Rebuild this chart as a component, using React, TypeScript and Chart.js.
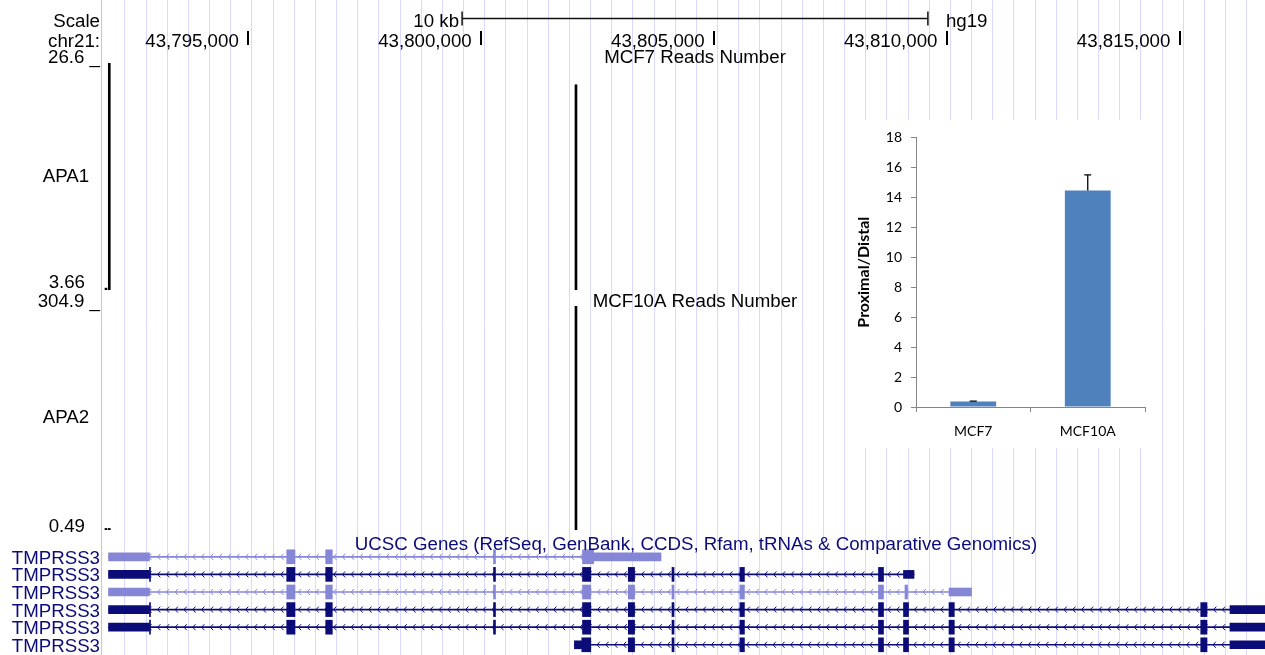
import React, { useEffect, useRef } from 'react';
import { Chart, registerables } from 'chart.js';

Chart.register(...registerables);

// ---------------- data: browser window (hg19) ----------------
const CHROM = 'chr21';
const ASSEMBLY = 'hg19';
const VIEW_START = 43791881;
const VIEW_END = 43816827;
const POSITION_TICKS = [43795000, 43800000, 43805000, 43810000, 43815000];
const SCALE_BAR_LABEL = '10 kb';
const SCALE_BAR = [43799590, 43809590];
const GUIDE_START = 43792353;
const GUIDE_STEP = 454.35;
const GUIDE_COUNT = 54;

// ---------------- data: read-count tracks ----------------
const TRACK_NAMES = ['APA1', 'APA2'];
const TRACK_TITLES = ['MCF7 Reads Number', 'MCF10A Reads Number'];
const APA1_RANGE = [3.66, 26.6];
const APA2_RANGE = [0.49, 304.9];
const APA1_RANGE_LABELS = ['26.6', '3.66'];
const APA2_RANGE_LABELS = ['304.9', '0.49'];
const SIGNAL_POSITIONS = [43791945, 43792016, 43802035];
const APA1_VALUES = [3.85, 26.6, 24.4];
const APA2_VALUES = [2.6, 2.6, 304.9];

// ---------------- data: gene track ----------------
const GENE_TRACK_TITLE = 'UCSC Genes (RefSeq, GenBank, CCDS, Rfam, tRNAs & Comparative Genomics)';
const TX_ROWS = [1, 2, 3, 4, 5, 6];
const TX_NAMES = ['TMPRSS3', 'TMPRSS3', 'TMPRSS3', 'TMPRSS3', 'TMPRSS3', 'TMPRSS3'];
const TX_STARTS = [43792000, 43792000, 43792000, 43792000, 43792000, 43802001];
const TX_ENDS = [43803860, 43809292, 43810526, 43817000, 43817000, 43817000];
// [row, start, end]
const UTR_BLOCKS = [
  [1, 43792000, 43792879], [1, 43802415, 43803860],
  [2, 43792000, 43792879], [2, 43809066, 43809292],
  [3, 43792000, 43792879], [3, 43810043, 43810526],
  [4, 43792000, 43792879], [4, 43816075, 43817000],
  [5, 43792000, 43792879], [5, 43816075, 43817000],
  [6, 43802001, 43802160], [6, 43816075, 43817000],
];
const CDS_BLOCKS = [
  [1, 43795825, 43796003], [1, 43796662, 43796804], [1, 43800264, 43800307], [1, 43802175, 43802415],
  [2, 43792879, 43792901], [2, 43795825, 43796003], [2, 43796662, 43796804], [2, 43800264, 43800307],
  [2, 43802175, 43802353], [2, 43803158, 43803293], [2, 43804096, 43804140], [2, 43805554, 43805651],
  [2, 43808529, 43808637],
  [3, 43795825, 43796003], [3, 43796662, 43796804], [3, 43800264, 43800307], [3, 43802175, 43802353],
  [3, 43803158, 43803293], [3, 43804096, 43804140], [3, 43805554, 43805651], [3, 43808529, 43808637],
  [3, 43809098, 43809152],
  [4, 43792879, 43792901], [4, 43795825, 43796003], [4, 43796662, 43796804], [4, 43800264, 43800307],
  [4, 43802175, 43802353], [4, 43803158, 43803293], [4, 43804096, 43804140], [4, 43805554, 43805651],
  [4, 43808529, 43808637], [4, 43809066, 43809174], [4, 43810043, 43810157], [4, 43815447, 43815582],
  [5, 43792879, 43792901], [5, 43795825, 43796003], [5, 43796662, 43796804], [5, 43800264, 43800307],
  [5, 43802175, 43802353], [5, 43803158, 43803293], [5, 43804096, 43804140], [5, 43805554, 43805651],
  [5, 43808529, 43808637], [5, 43809066, 43809174], [5, 43810043, 43810157], [5, 43815447, 43815582],
  [6, 43802160, 43802353], [6, 43803158, 43803293], [6, 43804096, 43804140], [6, 43805554, 43805651],
  [6, 43808529, 43808637], [6, 43809066, 43809174], [6, 43810043, 43810157], [6, 43815447, 43815582],
];

// ---------------- data: inset bar chart ----------------
const INSET_CATEGORIES = ['MCF7', 'MCF10A'];
const INSET_VALUES = [0.36, 14.45];
const INSET_ERRORS = [0.03, 1.05];
const INSET_Y_TITLE = 'Proximal/Distal';

// ---------------- styles ----------------
const FONT = '"Liberation Sans", Arial, sans-serif';
const FONT_PX = 18.7;
const NAVY = '#0c0c78';
const LIGHT = '#8686d6';
const TX_COLORS = [LIGHT, NAVY, LIGHT, NAVY, NAVY, NAVY];
const GUIDE_COLOR = '#d9d9ff';
const INSET_AXIS = '#868686';

const rowColor = (ctx: any) => (ctx && ctx.raw ? TX_COLORS[ctx.raw.y - 1] : NAVY);

const barCommon = {
  type: 'bar',
  borderWidth: 0,
  grouped: false,
  barPercentage: 1,
  categoryPercentage: 1,
};

const ucscPlugin = {
  id: 'ucscDecor',
  beforeDraw(chart: any) {
    const { ctx } = chart;
    ctx.save();
    ctx.fillStyle = '#fff';
    ctx.fillRect(0, 0, chart.width, chart.height);
    ctx.restore();
  },
  beforeDatasetsDraw(chart: any) {
    const { ctx, chartArea } = chart;
    const xs = chart.scales.xg;
    const ys = chart.scales.yGene;
    ctx.save();
    ctx.beginPath();
    ctx.rect(chartArea.left, chartArea.top, chartArea.right - chartArea.left, chartArea.bottom - chartArea.top);
    ctx.clip();
    ctx.lineWidth = 1;
    TX_ROWS.forEach((row, i) => {
      const y = ys.getPixelForValue(row);
      const x0 = Math.max(xs.getPixelForValue(TX_STARTS[i]), chartArea.left);
      const x1 = Math.min(xs.getPixelForValue(TX_ENDS[i]), chartArea.right);
      ctx.strokeStyle = TX_COLORS[i];
      ctx.beginPath();
      for (let px = x0 + 5; px < x1 - 4; px += 8.8) {
        ctx.moveTo(px + 2.8, y - 3);
        ctx.lineTo(px, y);
        ctx.lineTo(px + 2.8, y + 3);
      }
      ctx.stroke();
    });
    ctx.restore();
  },
  afterDraw(chart: any) {
    const { ctx } = chart;
    const x = chart.scales.x;
    const yA1 = chart.scales.yA1;
    const yA2 = chart.scales.yA2;
    const yG = chart.scales.yGene;
    ctx.save();
    // left border line
    ctx.strokeStyle = '#ffb0b0';
    ctx.lineWidth = 1;
    ctx.beginPath();
    ctx.moveTo(101.5, 0);
    ctx.lineTo(101.5, chart.height);
    ctx.stroke();

    ctx.font = `${FONT_PX}px ${FONT}`;
    ctx.fillStyle = '#000';
    ctx.textBaseline = 'alphabetic';

    // header labels
    ctx.textAlign = 'right';
    ctx.fillText('Scale', 100, 27.3);
    ctx.fillText(CHROM + ':', 100, 46.7);

    // scale bar
    const sb0 = x.getPixelForValue(SCALE_BAR[0]);
    const sb1 = x.getPixelForValue(SCALE_BAR[1]);
    ctx.strokeStyle = '#111';
    ctx.lineWidth = 1.5;
    ctx.beginPath();
    ctx.moveTo(sb0, 18.5);
    ctx.lineTo(sb1, 18.5);
    ctx.moveTo(sb0, 11.5);
    ctx.lineTo(sb0, 25.5);
    ctx.moveTo(sb1, 11.5);
    ctx.lineTo(sb1, 25.5);
    ctx.stroke();
    ctx.textAlign = 'right';
    ctx.fillText(SCALE_BAR_LABEL, sb0 - 3, 27);
    ctx.textAlign = 'left';
    ctx.fillText(ASSEMBLY, sb1 + 18, 27);

    // base position labels
    POSITION_TICKS.forEach((p) => {
      const px = x.getPixelForValue(p);
      ctx.textAlign = 'right';
      ctx.fillText(p.toLocaleString('en-US'), px - 9.5, 46.7);
      ctx.fillRect(Math.round(px) - 1, 31, 2, 14);
    });

    // track range labels
    ctx.textAlign = 'right';
    ctx.fillText(APA1_RANGE_LABELS[0] + ' _', 100, yA1.getPixelForValue(APA1_RANGE[1]) + 0.3);
    ctx.fillText(APA1_RANGE_LABELS[1], 85, yA1.getPixelForValue(APA1_RANGE[0]) - 1.7);
    ctx.fillText(APA2_RANGE_LABELS[0] + ' _', 100, yA2.getPixelForValue(APA2_RANGE[1]) + 0.5);
    ctx.fillText(APA2_RANGE_LABELS[1], 85, yA2.getPixelForValue(APA2_RANGE[0]) + 2);

    // track names (left column)
    ctx.textAlign = 'center';
    ctx.textBaseline = 'middle';
    ctx.fillText(TRACK_NAMES[0], 66, (yA1.top + yA1.bottom) / 2);
    ctx.fillText(TRACK_NAMES[1], 66, (yA2.top + yA2.bottom) / 2);

    // track titles
    ctx.textBaseline = 'alphabetic';
    ctx.fillText(TRACK_TITLES[0], 695, yA1.top + 0.3);
    ctx.fillText(TRACK_TITLES[1], 695, yA2.top + 0.5);

    // gene track
    ctx.fillStyle = NAVY;
    ctx.fillText(GENE_TRACK_TITLE, 696, yG.top + 2);
    ctx.textAlign = 'right';
    TX_ROWS.forEach((row, i) => {
      ctx.fillText(TX_NAMES[i], 100, yG.getPixelForValue(row) + 7);
    });
    ctx.restore();
  },
};

function mainConfig(): any {
  const signal = (values: number[], range: number[], yAxisID: string) => ({
    ...barCommon,
    xAxisID: 'x',
    yAxisID,
    indexAxis: 'x',
    data: SIGNAL_POSITIONS.map((p, i) => ({ x: p, y: [range[0], values[i]] })),
    backgroundColor: '#000',
    barThickness: 2,
    maxBarThickness: 2,
  });
  const genes = (blocks: number[][], thickness: number) => ({
    ...barCommon,
    xAxisID: 'xg',
    yAxisID: 'yGene',
    indexAxis: 'y',
    data: blocks.map(([row, s, e]) => ({ y: row, x: [s, e] })),
    backgroundColor: rowColor,
    barThickness: thickness,
    maxBarThickness: thickness,
  });
  const introns = TX_ROWS.map((row, i) => [row, TX_STARTS[i], TX_ENDS[i]]);
  const dummy = (weight: number, stackWeight: number) => ({
    type: 'linear', display: false, position: 'left', stack: 'tracks', stackWeight, weight,
    min: 0, max: 1, offset: false, beginAtZero: false,
  });
  return {
    type: 'bar',
    data: {
      datasets: [
        signal(APA1_VALUES, APA1_RANGE, 'yA1'),
        signal(APA2_VALUES, APA2_RANGE, 'yA2'),
        genes(CDS_BLOCKS, 14),
        genes(UTR_BLOCKS, 8),
        genes(introns, 1),
      ],
    },
    options: {
      responsive: false,
      animation: false,
      devicePixelRatio: 1,
      events: [],
      layout: { padding: { left: 103, right: 0, top: 0, bottom: 0 } },
      plugins: { legend: { display: false }, tooltip: { enabled: false }, title: { display: false } },
      scales: {
        x: {
          type: 'linear', min: VIEW_START, max: VIEW_END, offset: false, bounds: 'data', position: 'bottom',
          grid: { color: GUIDE_COLOR, lineWidth: 1, drawTicks: false, offset: false },
          border: { display: false },
          ticks: { display: false },
          afterBuildTicks: (s: any) => {
            const t = [];
            for (let k = 0; k < GUIDE_COUNT; k++) t.push({ value: GUIDE_START + k * GUIDE_STEP });
            s.ticks = t;
          },
        },
        xg: { type: 'linear', min: VIEW_START, max: VIEW_END, offset: false, display: false, position: 'bottom', beginAtZero: false },
        yHead: dummy(6, 63),
        yA1: { ...dummy(5, 227), min: APA1_RANGE[0], max: APA1_RANGE[1] },
        yGap: dummy(4, 16),
        yA2: { ...dummy(3, 224), min: APA2_RANGE[0], max: APA2_RANGE[1] },
        yGeneHead: dummy(2, 18),
        yGene: {
          ...dummy(1, 107), min: 0.5, max: 6.58, reverse: true, grid: { offset: false },
          afterBuildTicks: (s: any) => { s.ticks = TX_ROWS.map((v) => ({ value: v })); },
        },
      },
    },
    plugins: [ucscPlugin],
  };
}

const errorBarPlugin = {
  id: 'errorBars',
  afterDatasetsDraw(chart: any) {
    const { ctx } = chart;
    const meta = chart.getDatasetMeta(0);
    const y = chart.scales.y;
    ctx.save();
    ctx.strokeStyle = '#000';
    ctx.lineWidth = 1.3;
    meta.data.forEach((bar: any, i: number) => {
      const base = y.getPixelForValue(INSET_VALUES[i]);
      const top = y.getPixelForValue(INSET_VALUES[i] + INSET_ERRORS[i]);
      ctx.beginPath();
      ctx.moveTo(bar.x, base);
      ctx.lineTo(bar.x, top);
      ctx.moveTo(bar.x - 3.5, top);
      ctx.lineTo(bar.x + 3.5, top);
      ctx.stroke();
    });
    ctx.restore();
  },
};

function insetConfig(): any {
  const tickFont = { family: 'Lato, "Open Sans", sans-serif', size: 14 };
  return {
    type: 'bar',
    data: {
      labels: INSET_CATEGORIES,
      datasets: [{
        data: INSET_VALUES,
        backgroundColor: '#4f81bd',
        borderWidth: 0,
        barPercentage: 0.4,
        categoryPercentage: 1,
      }],
    },
    options: {
      responsive: false,
      animation: false,
      devicePixelRatio: 1,
      events: [],
      layout: { padding: { left: 0, right: 16, top: 15.7, bottom: 0 } },
      plugins: { legend: { display: false }, tooltip: { enabled: false } },
      scales: {
        x: {
          offset: true,
          grid: { offset: true, drawOnChartArea: false, drawTicks: true, tickLength: 5, color: INSET_AXIS },
          border: { color: INSET_AXIS, width: 1 },
          ticks: { color: '#000', font: tickFont, padding: 11 },
          afterFit: (s: any) => { s.height = 41; },
        },
        y: {
          min: 0, max: 18,
          ticks: { stepSize: 2, color: '#000', font: tickFont, padding: 9 },
          grid: { drawOnChartArea: false, tickLength: 5, color: INSET_AXIS },
          border: { color: INSET_AXIS, width: 1 },
          title: {
            display: true, text: INSET_Y_TITLE, color: '#000',
            font: { family: 'Lato, "Open Sans", sans-serif', size: 16, weight: 'bold' },
            padding: { top: 9.4, bottom: 0 },
          },
          afterFit: (s: any) => { s.width = 71; },
        },
      },
    },
    plugins: [errorBarPlugin],
  };
}

export default function App() {
  const mainRef = useRef<HTMLCanvasElement>(null);
  const insetRef = useRef<HTMLCanvasElement>(null);
  useEffect(() => {
    document.body.style.margin = '0';
    const main = new Chart(mainRef.current as HTMLCanvasElement, mainConfig());
    const inset = new Chart(insetRef.current as HTMLCanvasElement, insetConfig());
    return () => {
      main.destroy();
      inset.destroy();
    };
  }, []);
  return (
    <div style={{ position: 'fixed', left: 0, top: 0, width: 1265, height: 655, background: '#fff', overflow: 'hidden' }}>
      <canvas ref={mainRef} width={1265} height={655} style={{ position: 'absolute', left: 0, top: 0 }} />
      <div style={{ position: 'absolute', left: 845, top: 120, width: 316, height: 328, background: '#fff' }}>
        <canvas ref={insetRef} width={316} height={328} style={{ display: 'block' }} />
      </div>
    </div>
  );
}
